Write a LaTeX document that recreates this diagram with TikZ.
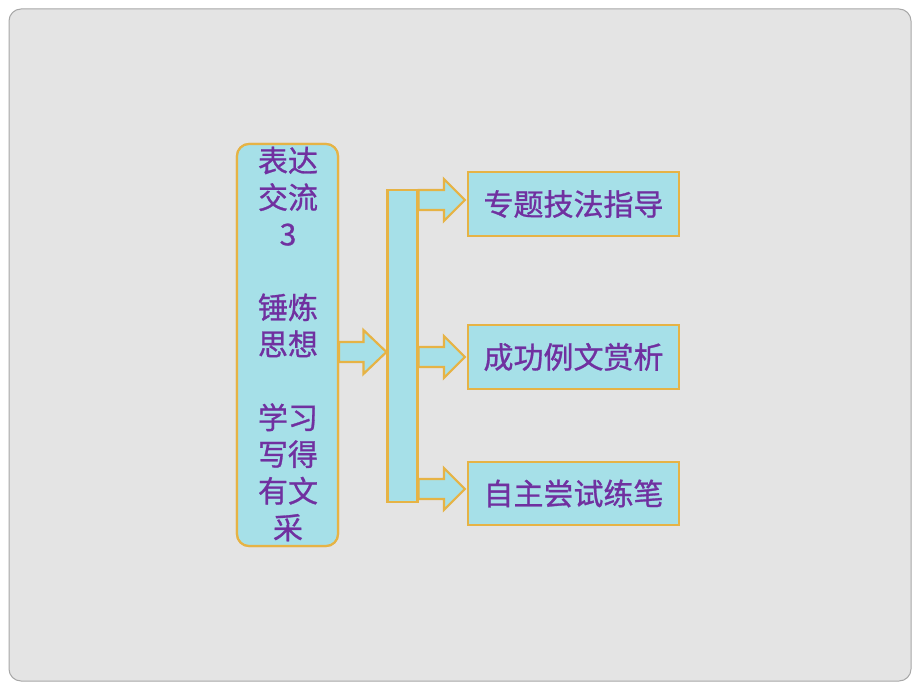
\documentclass[tikz,border=0pt]{standalone}
\usepackage{fontspec}
\newfontfamily\cjk{Noto Sans CJK SC}[FakeBold=0.9]
\usetikzlibrary{calc}
\definecolor{pagegray}{HTML}{E4E4E4}
\definecolor{frameline}{HTML}{A8A8A8}
\definecolor{aqua}{HTML}{A6E0E8}
\definecolor{gold}{HTML}{E6B345}
\definecolor{txtpurple}{HTML}{7030A0}
\tikzset{
  panel/.style={draw=gold, line width=2.2pt, fill=aqua, inner sep=0pt},
  arrowbox/.style={draw=gold, line width=2.2pt, fill=aqua, line join=miter},
  bigtxt/.style={text=txtpurple, font=\cjk\fontsize{30}{36.7}\selectfont, align=center, inner sep=0pt},
}
\newcommand\blkarrow[5]{% from, to, head length, body half, head half
  \draw[arrowbox] let \p1=(#1), \p2=(#2) in
    (\x1,\y1+#4) -- (\x2-#3,\y1+#4) -- (\x2-#3,\y1+#5) -- (\x2,\y1)
    -- (\x2-#3,\y1-#5) -- (\x2-#3,\y1-#4) -- (\x1,\y1-#4) -- cycle;}
\begin{document}
\begin{tikzpicture}[x=1pt,y=-1pt]
\useasboundingbox (0,0) rectangle (920,690);
\fill[white] (0,0) rectangle (920,690);
\node[draw=frameline, line width=1pt, fill=pagegray, rounded corners=12pt,
  minimum width=902pt, minimum height=672pt, inner sep=0pt] (page) at (460,345) {};
% named coordinates
\coordinate (ybig) at (0,352);
\coordinate (yt) at (0,200);
\coordinate (ym) at (0,357);
\coordinate (yb) at (0,489);
% nodes (positions)
\node[panel, rounded corners=12pt, minimum width=101pt, minimum height=402pt] (L) at (287.5,345) {};
\node[panel, minimum width=30pt, minimum height=312pt] (B) at (402.5,346) {};
\node[panel, minimum width=211pt, minimum height=64pt] (R1) at (573.5,204) {};
\node[panel, minimum width=211pt, minimum height=64pt] (R2) at (573.5,357) {};
\node[panel, minimum width=211pt, minimum height=63pt] (R3) at (573.5,493.5) {};
% arrows
\coordinate (a0s) at (L.east |- ybig);
\coordinate (a0e) at (B.west |- ybig);
\blkarrow{a0s}{a0e}{23pt}{10pt}{22pt}
\coordinate (a1s) at (B.east |- yt);
\coordinate (a1e) at ($(R1.west |- yt)+(-2,0)$);
\blkarrow{a1s}{a1e}{21pt}{10pt}{21pt}
\coordinate (a2s) at (B.east |- ym);
\coordinate (a2e) at ($(R2.west |- ym)+(-2,0)$);
\blkarrow{a2s}{a2e}{21pt}{10pt}{21pt}
\coordinate (a3s) at (B.east |- yb);
\coordinate (a3e) at ($(R3.west |- yb)+(-2,0)$);
\blkarrow{a3s}{a3e}{21pt}{10pt}{21pt}
% redraw bar and boxes over the arrow ends
\node[panel, minimum width=30pt, minimum height=312pt] at (B) {};
\node[panel, rounded corners=12pt, minimum width=101pt, minimum height=402pt] at (L) {};
% texts
\node[bigtxt] (Lt) at (288,344) {表达\\交流\\3\\[36.7pt]锤炼\\思想\\[36.7pt]学习\\写得\\有文\\采};
\node[bigtxt] (R1t) at (R1) {专题技法指导};
\node[bigtxt] (R2t) at (R2) {成功例文赏析};
\node[bigtxt] (R3t) at (R3) {自主尝试练笔};
\end{tikzpicture}
\end{document}
